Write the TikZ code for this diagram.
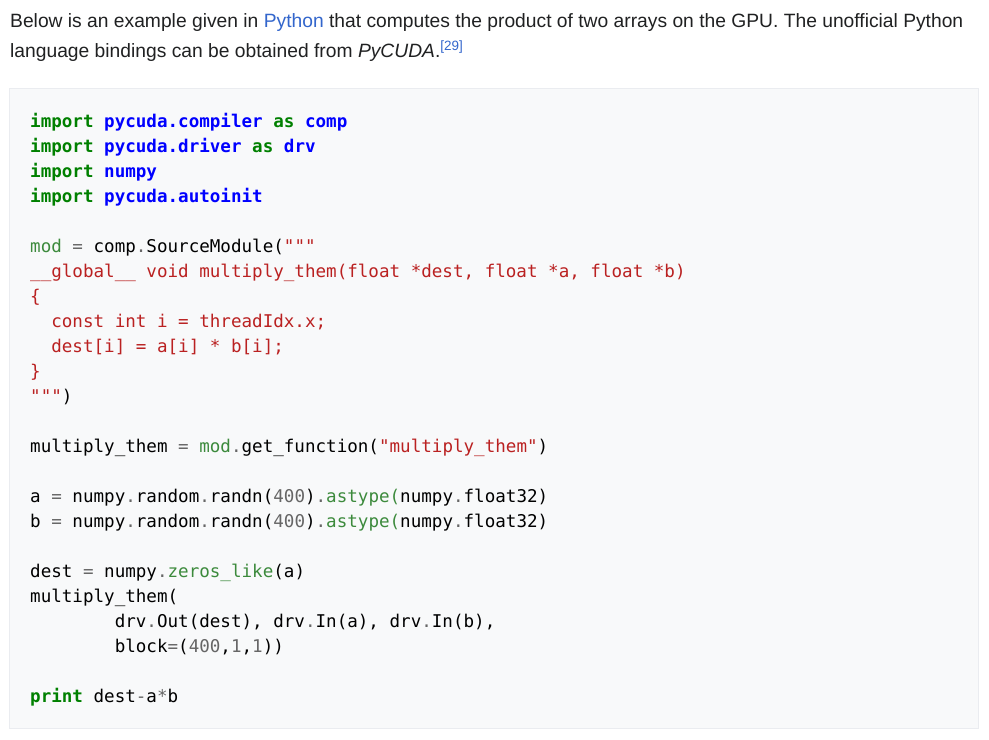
\documentclass[tikz,border=0pt]{standalone}
\usepackage{fontspec}
\setmainfont{Liberation Sans}
\newfontfamily\codefont{DejaVu Sans Mono}
\usetikzlibrary{positioning}

\definecolor{bodytext}{HTML}{202122}
\definecolor{linkblue}{HTML}{3366CC}
\definecolor{boxbg}{HTML}{F8F9FA}
\definecolor{boxline}{HTML}{EAECF0}
\definecolor{pykw}{HTML}{008000}
\definecolor{pyns}{HTML}{0000FF}
\definecolor{pyop}{HTML}{666666}
\definecolor{pystr}{HTML}{BA2121}
\definecolor{pyfn}{HTML}{3C8A3C}

\newcommand\kw[1]{\textcolor{pykw}{\bfseries #1}}
\newcommand\ns[1]{\textcolor{pyns}{\bfseries #1}}
\newcommand\op[1]{\textcolor{pyop}{#1}}
\newcommand\st[1]{\textcolor{pystr}{#1}}
\newcommand\fn[1]{\textcolor{pyfn}{#1}}

\tikzset{
  prose/.style={anchor=base west, inner sep=0pt, text=bodytext,
    font=\fontsize{19.25bp}{30bp}\selectfont},
  code/.style={anchor=base west, inner sep=0pt, text=black,
    font=\codefont\fontsize{17.56bp}{25bp}\selectfont}
}

\begin{document}
\frenchspacing
\begin{tikzpicture}[x=1bp,y=-1bp]
  \def\cw{10.57}
  \def\ln{25}
  \useasboundingbox[fill=white] (0,0) rectangle (989,740);
  % intro text
  \node[prose] (intro1) at (10,28) {Below is an example given in \textcolor{linkblue}{Python} that computes the product of two arrays on the GPU. The unofficial Python};
  \node[prose] (intro2) at (10,58) {language bindings can be obtained from \textit{PyCUDA}.\textsuperscript{\textcolor{linkblue}{[29]}}};
  % code box
  \draw[boxline, fill=boxbg] (9.5,88.5) rectangle (978.5,728.5);
  \node[code] (c1) at (30,{127+0*\ln}) {\kw{import} \ns{pycuda.compiler} \kw{as} \ns{comp}};
  \node[code] (c2) at (30,{127+1*\ln}) {\kw{import} \ns{pycuda.driver} \kw{as} \ns{drv}};
  \node[code] (c3) at (30,{127+2*\ln}) {\kw{import} \ns{numpy}};
  \node[code] (c4) at (30,{127+3*\ln}) {\kw{import} \ns{pycuda.autoinit}};
  \node[code] (c6) at (30,{127+5*\ln}) {\fn{mod} \op{=} comp\op{.}SourceModule(\st{"""}};
  \node[code] (c7) at (30,{127+6*\ln}) {\st{\_\_global\_\_ void multiply\_them(float *dest, float *a, float *b)}};
  \node[code] (c8) at (30,{127+7*\ln}) {\st{\{}};
  \node[code] (c9) at ({30+2*\cw},{127+8*\ln}) {\st{const int i = threadIdx.x;}};
  \node[code] (c10) at ({30+2*\cw},{127+9*\ln}) {\st{dest[i] = a[i] * b[i];}};
  \node[code] (c11) at (30,{127+10*\ln}) {\st{\}}};
  \node[code] (c12) at (30,{127+11*\ln}) {\st{"""})};
  \node[code] (c14) at (30,{127+13*\ln}) {multiply\_them \op{=} \fn{mod}\op{.}get\_function(\st{"multiply\_them"})};
  \node[code] (c16) at (30,{127+15*\ln}) {a \op{=} numpy\op{.}random\op{.}randn(\op{400})\op{.}\fn{astype(}numpy\op{.}float32)};
  \node[code] (c17) at (30,{127+16*\ln}) {b \op{=} numpy\op{.}random\op{.}randn(\op{400})\op{.}\fn{astype(}numpy\op{.}float32)};
  \node[code] (c19) at (30,{127+18*\ln}) {dest \op{=} numpy\op{.}\fn{zeros\_like}(a)};
  \node[code] (c20) at (30,{127+19*\ln}) {multiply\_them(};
  \node[code] (c21) at ({30+8*\cw},{127+20*\ln}) {drv\op{.}Out(dest), drv\op{.}In(a), drv\op{.}In(b),};
  \node[code] (c22) at ({30+8*\cw},{127+21*\ln}) {block\op{=}(\op{400},\op{1},\op{1}))};
  \node[code] (c24) at (30,{127+23*\ln}) {\kw{print} dest\op{-}a\op{*}b};
\end{tikzpicture}
\end{document}
